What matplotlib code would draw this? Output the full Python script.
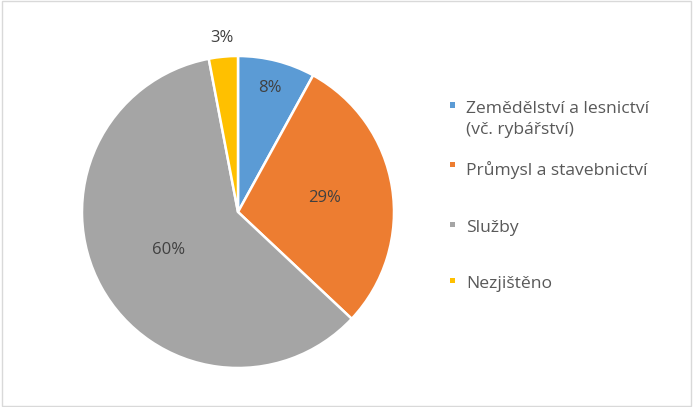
import matplotlib.pyplot as plt
from matplotlib.patches import Rectangle
import numpy as np

labels = ['Zemědělství a lesnictví\n(vč. rybářství)', 'Průmysl a stavebnictví', 'Služby', 'Nezjištěno']
shares = [8, 29, 60, 3]
colors = ['#5B9BD5', '#ED7D31', '#A5A5A5', '#FFC000']

plt.rcParams['font.family'] = ['Open Sans', 'DejaVu Sans']

fig = plt.figure(figsize=(6.93, 4.07), dpi=100)
fig.add_artist(Rectangle((0.003, 0.003), 0.994, 0.994, transform=fig.transFigure,
                         fill=False, edgecolor='#D9D9D9', linewidth=1))

# pie centre ~(238, 212) px, radius ~156 px
cx, cy, r = 238 / 693, 1 - 212 / 407, 156
ax = fig.add_axes([cx - r / 693, cy - r / 407, 2 * r / 693, 2 * r / 407])
wedges, _ = ax.pie(shares, colors=colors, startangle=90, counterclock=False,
                   wedgeprops=dict(edgecolor='white', linewidth=1.8))
ax.set_xlim(-1, 1)
ax.set_ylim(-1, 1)
ax.set_aspect('equal')

# label distances (fraction of radius), Excel "best fit" style
label_dist = [0.82, 0.565, 0.51, 1.12]
for w, v, d in zip(wedges, shares, label_dist):
    ang = np.deg2rad((w.theta1 + w.theta2) / 2)
    ax.text(d * np.cos(ang), d * np.sin(ang), f'{v}%', ha='center', va='center',
            fontsize=12, color='#404040')

# legend
row_y = [108, 168, 227, 283]
for lab, col, y in zip(labels, colors, row_y):
    yf = 1 - y / 407
    fig.add_artist(Rectangle((450 / 693, yf + 0.5 / 407), 5 / 693, 5 / 407,
                             transform=fig.transFigure, facecolor=col, edgecolor='none'))
    fig.text(466 / 693, yf + 7 / 407, lab, ha='left', va='top', fontsize=12.6,
             color='#595959', linespacing=1.45)

fig.savefig('out.png', dpi=100)
